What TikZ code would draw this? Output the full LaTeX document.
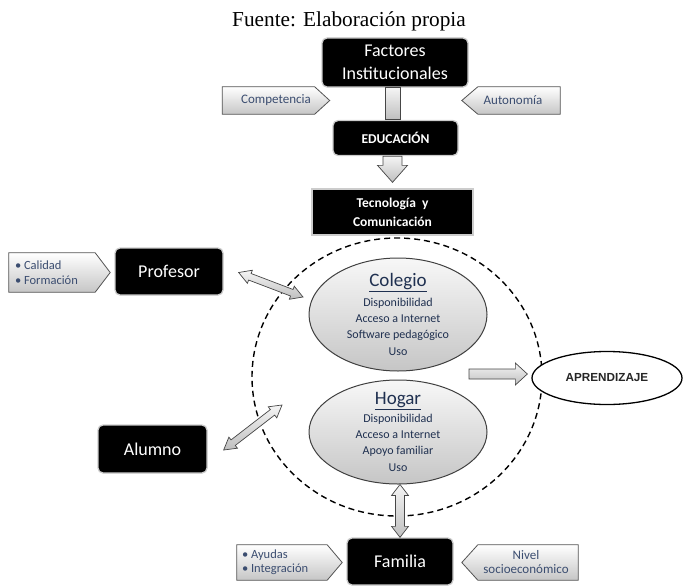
\documentclass[tikz,border=0pt]{standalone}
\usepackage{fontspec}
\setmainfont{Liberation Serif}
\newfontfamily\calfont{Carlito}
\newfontfamily\arifont{Liberation Sans}
\usetikzlibrary{calc,shapes.geometric}
\definecolor{navytext}{HTML}{1F3050}
\definecolor{slatetext}{HTML}{3B4D70}
\newcommand\fatdbl[5]{%
  \path ($(#1)!#3!(#2)$) coordinate (hA) ($(#2)!#3!(#1)$) coordinate (hB);
  \draw[fat] (#1) -- ($(hA)!#4!90:(#2)$) -- ($(hA)!#5!90:(#2)$) -- ($(hB)!#5!-90:(#1)$) -- ($(hB)!#4!-90:(#1)$) -- (#2)
    -- ($(hB)!#4!90:(#1)$) -- ($(hB)!#5!90:(#1)$) -- ($(hA)!#5!-90:(#2)$) -- ($(hA)!#4!-90:(#2)$) -- cycle;}
\newcommand\fatsgl[5]{%
  \path ($(#2)!#3!(#1)$) coordinate (hB);
  \draw[fat] ($(#1)!#5!90:(#2)$) -- ($(hB)!#5!-90:(#1)$) -- ($(hB)!#4!-90:(#1)$) -- (#2)
    -- ($(hB)!#4!90:(#1)$) -- ($(hB)!#5!90:(#1)$) -- ($(#1)!#5!-90:(#2)$) -- cycle;}
\tikzset{
  blackbox/.style={fill=black, draw=gray!40, line width=1.3pt, rounded corners=5pt, text=white, align=center, inner sep=0pt},
  bigwhite/.style={font=\calfont\fontsize{18}{23}\selectfont},
  boldwhite/.style={font=\calfont\bfseries\fontsize{13.5}{19}\selectfont},
  tagbox/.style={inner sep=0pt, text=slatetext, font=\calfont\fontsize{13}{14.5}\selectfont, align=center},
  tagshape/.style={top color=white, bottom color=gray!45, draw=gray!65!black, line width=0.8pt, line join=miter},
  oval/.style={ellipse, top color=gray!6, bottom color=gray!45, draw=gray!50!black, line width=1pt, inner sep=0pt},
  ovaltext/.style={text=navytext, align=center, font=\calfont\fontsize{12}{16.3}\selectfont, inner sep=0pt},
  fat/.style={top color=gray!8, bottom color=gray!50, draw=gray!55!black, line width=0.7pt, line join=miter},
}
\begin{document}
\begin{tikzpicture}[x=1pt,y=-1pt]
\useasboundingbox (0,0) rectangle (684,586);

% title
\node[font=\fontsize{21.3}{24}\selectfont, anchor=base] (title) at (349,27) {Fuente: Elaboración propia};

% dashed region
\node[ellipse, draw, dashed, dash pattern=on 6pt off 4pt, line width=1.4pt, minimum width=290, minimum height=278, inner sep=0pt] (zone) at (397,377) {};

% top chain
\node[blackbox, bigwhite, minimum width=146, minimum height=49] (fact) at (395,62.5) {Factores\\Institucionales};
\node[blackbox, boldwhite, minimum width=125, minimum height=35] (edu) at (395.5,138) {EDUCACIÓN};
\node[blackbox, boldwhite, rounded corners=0pt, minimum width=161, minimum height=46] (tec) at (392.5,212) {Tecnología\ \ y\\Comunicación};

\draw[fat] ($(fact.south)+(-10,0)$) rectangle ($(edu.north)+(5,-0.6)$);
\coordinate (e1) at ($(edu.south)+(-3,0)$);
\coordinate (e2) at ($(tec.north)+(0,-6)$);
\fatsgl{e1}{e2}{17pt}{15pt}{9.5pt}

% side tags of Factores
\node[tagbox, minimum width=107, minimum height=27] (comp) at (276,100.5) {};
\draw[tagshape] (comp.north west) -- ($(comp.north east)+(-15,0)$) -- (comp.east) -- ($(comp.south east)+(-15,0)$) -- (comp.south west) -- cycle;
\node[tagbox] at (comp.center) {Competencia};
\node[tagbox, minimum width=98, minimum height=27] (auto) at (511,100.5) {};
\draw[tagshape] (auto.north east) -- ($(auto.north west)+(16,0)$) -- (auto.west) -- ($(auto.south west)+(16,0)$) -- (auto.south east) -- cycle;
\node[tagbox] at ($(auto.center)+(2,0)$) {Autonomía};

% Colegio and Hogar
\node[oval, minimum width=178, minimum height=113] (col) at (398,314.5) {};
\node[ovaltext] (colt) at (col.center) {{\fontsize{19}{19}\selectfont\underline{Colegio}}\\[3pt]Disponibilidad\\Acceso a Internet\\Software pedagógico\\Uso};
\node[oval, minimum width=178, minimum height=104] (hog) at (398,432) {};
\node[ovaltext] (hogt) at (hog.center) {{\fontsize{19}{19}\selectfont\underline{Hogar}}\\[1pt]Disponibilidad\\Acceso a Internet\\Apoyo familiar\\Uso};

% Aprendizaje
\node[ellipse, draw=black, line width=1.3pt, fill=white, minimum width=150, minimum height=53, inner sep=0pt,
      font=\arifont\bfseries\fontsize{11.7}{14}\selectfont, text=black!85] (apr) at (607,378) {APRENDIZAJE};
\coordinate (a1) at (469,374);
\coordinate (a2) at ($(apr.west)+(-4,-4)$);
\fatsgl{a1}{a2}{12pt}{11pt}{5pt}

% Profesor
\node[blackbox, bigwhite, minimum width=108, minimum height=47] (prof) at (169,271.5) {Profesor};
\node[tagbox, minimum width=101, minimum height=39] (calid) at (59.5,272.5) {};
\draw[tagshape] (calid.north west) -- ($(calid.north east)+(-15,0)$) -- (calid.east) -- ($(calid.south east)+(-15,0)$) -- (calid.south west) -- cycle;
\node[tagbox, align=left, anchor=west, font=\calfont\fontsize{12.5}{15}\selectfont] at ($(calid.west)+(6,0)$) {• Calidad\\• Formación};
\coordinate (p1) at ($(prof.east)+(15,1)$);
\coordinate (p2) at (303,297);
\fatdbl{p1}{p2}{12pt}{7pt}{3.5pt}

% Alumno
\node[blackbox, bigwhite, minimum width=109, minimum height=48] (alum) at (152.5,449) {Alumno};
\coordinate (q1) at ($(alum.east)+(16,1)$);
\coordinate (q2) at (282,405);
\fatdbl{q1}{q2}{12pt}{7pt}{3.5pt}

% Familia
\node[blackbox, bigwhite, minimum width=106, minimum height=47] (fam) at (400,561.5) {Familia};
\coordinate (f1) at ($(hog.south)+(2,0)$);
\coordinate (f2) at ($(fam.north)+(0,0)$);
\fatdbl{f1}{f2}{11pt}{8.5pt}{4.5pt}
\node[tagbox, minimum width=105, minimum height=35] (ayu) at (289.5,562.5) {};
\draw[tagshape] (ayu.north west) -- ($(ayu.north east)+(-15,0)$) -- (ayu.east) -- ($(ayu.south east)+(-15,0)$) -- (ayu.south west) -- cycle;
\node[tagbox, align=left, anchor=west, font=\calfont\fontsize{12.5}{14}\selectfont] at ($(ayu.west)+(5,0)$) {• Ayudas\\• Integración};
\node[tagbox, minimum width=116, minimum height=35] (niv) at (520,562.5) {};
\draw[tagshape] (niv.north east) -- ($(niv.north west)+(16,0)$) -- (niv.west) -- ($(niv.south west)+(16,0)$) -- (niv.south east) -- cycle;
\node[tagbox, font=\calfont\fontsize{13}{14}\selectfont] at ($(niv.center)+(6,0)$) {Nivel\\socioeconómico};
\end{tikzpicture}
\end{document}
